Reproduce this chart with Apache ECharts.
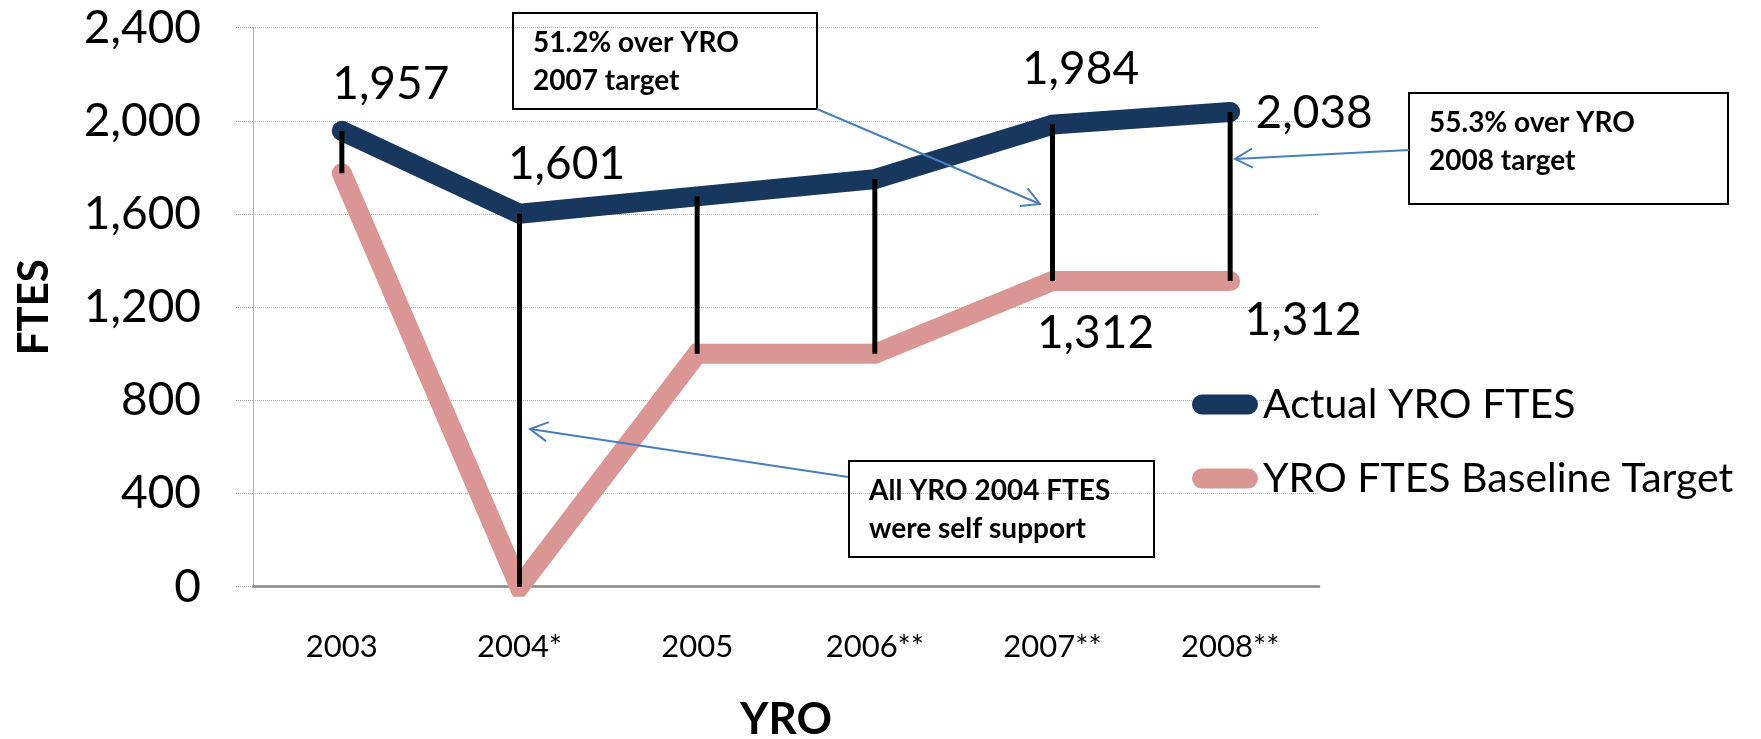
<!DOCTYPE html>
<html>
<head>
<meta charset="utf-8">
<style>
html, body { margin: 0; padding: 0; background: #fff; }
#chart { width: 1761px; height: 739px; }
</style>
<script src="https://cdn.jsdelivr.net/npm/echarts@6/dist/echarts.min.js"></script>
</head>
<body>
<div id="chart"></div>
<script>
const years = ['2003', '2004*', '2005', '2006**', '2007**', '2008**'];
const actualFtes = [1957, 1601, 1676, 1750, 1984, 2038];
const targetFtes = [1775, 0, 1000, 1000, 1312, 1312];
const yTicks = [0, 400, 800, 1200, 1600, 2000, 2400];

// points that carry a value label -> label offset from the point
const actualLabels = { 0: [49, -47], 1: [47, -50], 4: [28, -55], 5: [84, 1] };
const targetLabels = { 4: [43, 52], 5: [73, 39] };

const navy = '#17375e';
const pink = '#d99694';
const arrowBlue = '#4a7ebb';

const fmt = v => Number(v).toLocaleString('en-US');

function withLabels(values, labels) {
    return values.map((v, i) => labels[i]
        ? { value: v, label: { show: true, offset: labels[i] } }
        : v);
}

function lineSeries(name, values, labels, color) {
    return {
        name: name,
        type: 'line',
        data: withLabels(values, labels),
        symbol: 'circle',
        symbolSize: 2,
        showSymbol: true,
        itemStyle: { color: color },
        lineStyle: { color: color, width: 20, cap: 'round', join: 'miter' },
        label: {
            show: false,
            position: 'inside',
            color: '#000',
            fontSize: 46,
            fontFamily: 'Lato',
            formatter: p => fmt(p.value)
        },
        emphasis: { disabled: true },
        silent: true,
        z: 3
    };
}

function arrow(x1, y1, x2, y2) {
    const a = Math.atan2(y2 - y1, x2 - x1);
    const len = 20, spread = 0.5;
    return [
        { type: 'line', shape: { x1: x1, y1: y1, x2: x2, y2: y2 },
          style: { stroke: arrowBlue, lineWidth: 2 }, z: 20 },
        { type: 'polyline', z: 20,
          shape: { points: [
              [x2 - len * Math.cos(a - spread), y2 - len * Math.sin(a - spread)],
              [x2, y2],
              [x2 - len * Math.cos(a + spread), y2 - len * Math.sin(a + spread)]
          ] },
          style: { stroke: arrowBlue, lineWidth: 2, fill: null } }
    ];
}

function note(x, y, w, h, text) {
    return [
        { type: 'rect', shape: { x: x, y: y, width: w, height: h },
          style: { fill: null, stroke: '#000', lineWidth: 2 }, z: 20 },
        { type: 'text', x: x + 20, y: y + 11, z: 20,
          style: { text: text, font: 'bold 28px Lato', fill: '#000',
                   lineHeight: 38, verticalAlign: 'top' } }
    ];
}

const chart = echarts.init(document.getElementById('chart'));

const option = {
    animation: false,
    textStyle: { fontFamily: 'Lato' },
    grid: {
        left: 253, top: 27.7, width: 1066, height: 559,
        containLabel: false,
        outerBoundsMode: 'none'
    },
    legend: {
        orient: 'vertical',
        left: 1187,
        top: 379,
        itemWidth: 66,
        itemHeight: 20,
        itemGap: 33,
        icon: 'path://M10,0 L56,0 A10,10 0 0 1 56,20 L10,20 A10,10 0 0 1 10,0 Z',
        textStyle: { fontSize: 41, color: '#000', fontFamily: 'Lato' },
        data: ['Actual YRO FTES', 'YRO FTES Baseline Target'],
        selectedMode: false
    },
    xAxis: {
        type: 'category',
        data: years,
        boundaryGap: true,
        axisLine: { lineStyle: { color: '#868686', width: 2.5 } },
        axisTick: { show: false },
        axisLabel: { margin: 45, fontSize: 31, color: '#000', fontFamily: 'Lato' },
        name: 'YRO',
        nameLocation: 'middle',
        nameGap: 111,
        nameTextStyle: { fontSize: 44, fontWeight: 'bold', color: '#000', fontFamily: 'Lato' }
    },
    yAxis: {
        type: 'value',
        min: yTicks[0],
        max: yTicks[yTicks.length - 1],
        interval: yTicks[1] - yTicks[0],
        axisLine: { show: true, lineStyle: { color: '#a6a6a6', type: 'dotted', width: 1 } },
        axisTick: { show: true, length: 17, lineStyle: { color: '#a6a6a6', type: 'dotted' } },
        splitLine: { lineStyle: { color: '#b3b3b3', type: 'dotted', width: 1 } },
        axisLabel: { margin: 52, fontSize: 46, color: '#000', fontFamily: 'Lato', formatter: fmt },
        name: 'FTES',
        nameLocation: 'middle',
        nameGap: 198,
        nameTextStyle: { fontSize: 42, fontWeight: 'bold', color: '#000', fontFamily: 'Lato' }
    },
    series: [
        lineSeries('Actual YRO FTES', actualFtes, actualLabels, navy),
        lineSeries('YRO FTES Baseline Target', targetFtes, targetLabels, pink),
        {
            type: 'custom',
            silent: true,
            z: 5,
            encode: { x: 0, y: [1, 2] },
            data: years.map((y, i) => [i, actualFtes[i], targetFtes[i]]),
            renderItem: (params, api) => {
                const top = api.coord([api.value(0), api.value(1)]);
                const bottom = api.coord([api.value(0), api.value(2)]);
                return {
                    type: 'line',
                    shape: { x1: top[0], y1: top[1], x2: bottom[0], y2: bottom[1] },
                    style: { stroke: '#000', lineWidth: 5 }
                };
            }
        }
    ],
    graphic: [].concat(
        note(513, 13, 304, 96, '51.2% over YRO\n2007 target'),
        note(1409, 93, 319, 111, '55.3% over YRO\n2008 target'),
        note(849, 461, 305, 96, 'All YRO 2004 FTES\nwere self support'),
        arrow(817, 109, 1040, 204),
        arrow(1409, 150, 1235, 159),
        arrow(848, 477, 530, 429)
    )
};

chart.setOption(option);
</script>
</body>
</html>
